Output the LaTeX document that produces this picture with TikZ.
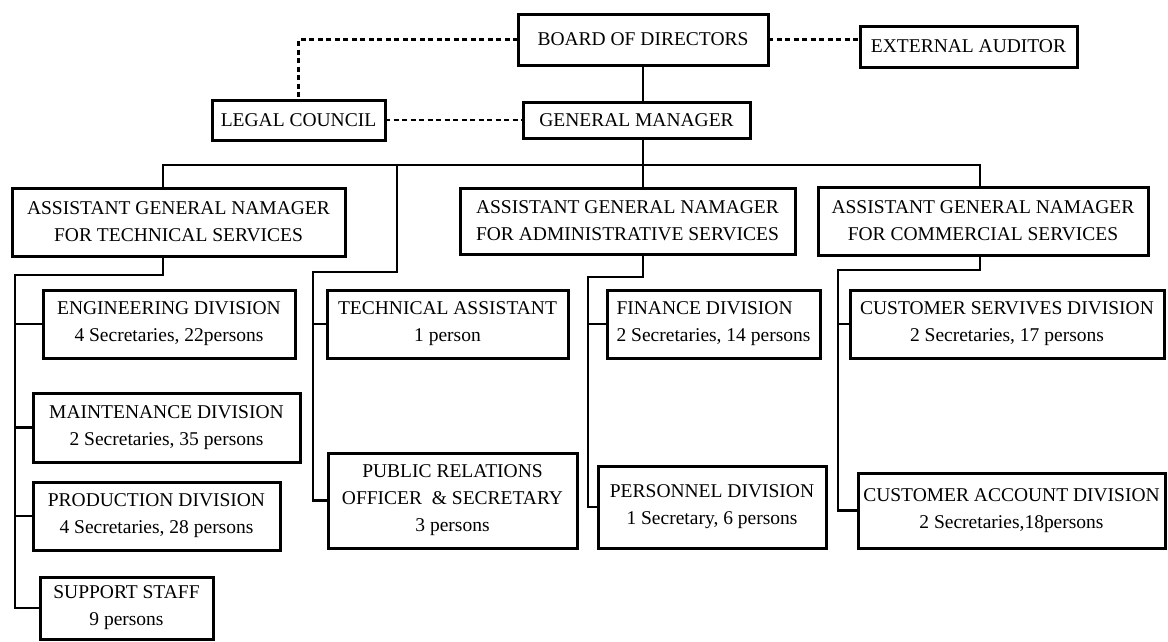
\documentclass[tikz,border=0pt]{standalone}
\usepackage{fontspec}
\setmainfont{Liberation Serif}
\begin{document}
\begin{tikzpicture}[x=1pt,y=-1pt,
  box/.style={draw=black, line width=3pt, inner sep=0pt, outer sep=0pt, align=center,
    font=\fontsize{19.5}{27}\selectfont},
  conn/.style={draw=black, line width=2.3pt},
  dconn/.style={draw=black, line width=2.3pt, dash pattern=on 5pt off 3.5pt}]
\fill[white] (0,0) rectangle (1168,641);
\useasboundingbox (0,0) rectangle (1168,641);

% top level
\node[box, minimum width=250pt, minimum height=51pt] (bod) at (643,39.5) {BOARD OF DIRECTORS};
\node[box, minimum width=217pt, minimum height=41pt] (ea) at (968.5,46.5) {EXTERNAL AUDITOR};
\node[box, minimum width=173pt, minimum height=40pt] (lc) at (298.5,120) {LEGAL COUNCIL};
\node[box, minimum width=227pt, minimum height=36pt] (gm) at (636.5,120) {GENERAL MANAGER};

% assistant general managers
\node[box, minimum width=333pt, minimum height=68pt] (agt) at (178.5,222) {ASSISTANT GENERAL NAMAGER\\FOR TECHNICAL SERVICES};
\node[box, minimum width=335pt, minimum height=66pt] (aga) at (627.5,221) {ASSISTANT GENERAL NAMAGER\\FOR ADMINISTRATIVE SERVICES};
\node[box, minimum width=330pt, minimum height=68pt] (agc) at (983,221) {ASSISTANT GENERAL NAMAGER\\FOR COMMERCIAL SERVICES};

% technical services
\node[box, minimum width=252pt, minimum height=68pt] (eng) at (169,324) {ENGINEERING DIVISION\\4 Secretaries, 22persons};
\node[box, minimum width=267pt, minimum height=69pt] (mnt) at (166.5,427.5) {MAINTENANCE DIVISION\\2 Secretaries, 35 persons};
\node[box, minimum width=247pt, minimum height=68pt] (prd) at (156.5,516) {PRODUCTION DIVISION\\4 Secretaries, 28 persons};
\node[box, minimum width=173pt, minimum height=62pt] (ss) at (126.5,608) {SUPPORT STAFF\\9 persons};

% staff
\node[box, minimum width=241pt, minimum height=68pt] (ta) at (447.5,324) {TECHNICAL ASSISTANT\\1 person};
\node[box, minimum width=249pt, minimum height=95pt] (pr) at (452.5,500.5) {PUBLIC RELATIONS\\OFFICER \ \& SECRETARY\\3 persons};

% administrative services
\node[box, align=left, minimum width=213pt, minimum height=68pt] (fin) at (713.5,324) {FINANCE DIVISION\\2 Secretaries, 14 persons};
\node[box, minimum width=228pt, minimum height=82pt] (per) at (712,507) {PERSONNEL DIVISION\\1 Secretary, 6 persons};

% commercial services
\node[box, minimum width=314pt, minimum height=68pt] (cs) at (1007,324) {CUSTOMER SERVIVES DIVISION\\2 Secretaries, 17 persons};
\node[box, minimum width=307pt, minimum height=75pt] (ca) at (1011.5,510.5) {CUSTOMER ACCOUNT DIVISION\\2 Secretaries,18persons};

% junction coordinates
\coordinate (busL) at (163,165);
\coordinate (busM) at (643,165);
\coordinate (busR) at (980,165);
\coordinate (stf) at (397,165);
\coordinate (stfB) at (313,272);
\coordinate (tL) at (15,275);
\coordinate (aL) at (588,277);
\coordinate (cL) at (838,270);

% dashed advisory links
\draw[dconn] (bod.east) -- (bod.east -| ea.west);
\draw[dconn] (bod.west) -| (lc.north);
\draw[dconn] (lc.east) -- (gm.west);

% main hierarchy
\draw[conn] (bod.south -| busM) -- (gm.north -| busM);
\draw[conn] (gm.south -| busM) -- (aga.north -| busM);
\draw[conn] (agt.north -| busL) -- (busL) -- (busR) -- (agc.north -| busR);

% staff branch
\draw[conn] (stf) |- (stfB) |- (pr.west);
\draw[conn] (ta.west -| stfB) -- (ta.west);

% technical branch
\draw[conn] (agt.south -| busL) |- (tL) |- (ss.west);
\draw[conn] (eng.west -| tL) -- (eng.west);
\draw[conn] (mnt.west -| tL) -- (mnt.west);
\draw[conn] (prd.west -| tL) -- (prd.west);

% administrative branch
\draw[conn] (aga.south -| busM) |- (aL) |- (per.west);
\draw[conn] (fin.west -| aL) -- (fin.west);

% commercial branch
\draw[conn] (agc.south -| busR) |- (cL) |- (ca.west);
\draw[conn] (cs.west -| cL) -- (cs.west);
\end{tikzpicture}
\end{document}
